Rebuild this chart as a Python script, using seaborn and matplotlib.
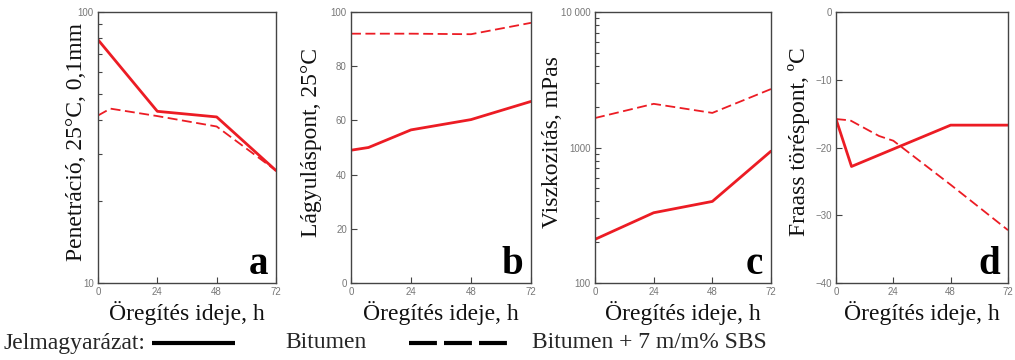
import matplotlib
matplotlib.use("Agg")
import matplotlib.pyplot as plt
import seaborn as sns
import pandas as pd
from matplotlib.lines import Line2D
from matplotlib.ticker import LogLocator, NullFormatter

# ---------------- data ----------------
x_ticks = [0, 24, 48, 72]
x_label = "Öregítés ideje, h"
series_names = ["Bitumen", "Bitumen + 7 m/m% SBS"]

# a: Penetration (log)
a_hours_bit = [0, 24, 48, 72]
a_pen_bit = [79, 43, 41, 26]
a_hours_sbs = [0, 5, 24, 48, 72]
a_pen_sbs = [41.5, 44, 41.3, 37.8, 26]

# b: Softening point
b_hours_bit = [0, 7, 24, 48, 72]
b_soft_bit = [49, 50, 56.5, 60.3, 67]
b_hours_sbs = [0, 24, 48, 72]
b_soft_sbs = [92, 92, 91.8, 96]

# c: Viscosity (log)
c_hours_bit = [0, 24, 48, 72]
c_visc_bit = [210, 330, 400, 940]
c_hours_sbs = [0, 24, 48, 72]
c_visc_sbs = [1650, 2100, 1800, 2700]

# d: Fraass breaking point
d_hours_bit = [0, 6.5, 48, 72]
d_fraass_bit = [-15.8, -22.8, -16.7, -16.7]
d_hours_sbs = [0, 6, 18, 24, 48, 72]
d_fraass_sbs = [-15.8, -16.0, -18.3, -19.0, -25.5, -32.2]

y_labels = ["Penetráció, 25°C, 0,1mm", "Lágyuláspont, 25°C",
            "Viszkozitás, mPas", "Fraass töréspont, ºC"]
panel_letters = ["a", "b", "c", "d"]
legend_title = "Jelmagyarázat:"

# ---------------- style ----------------
RED = "#ec1c24"
sns.set_style("white")
plt.rcParams["font.family"] = ["Liberation Sans", "DejaVu Sans"]
SERIF = ["Liberation Serif", "DejaVu Serif"]

fig = plt.figure(figsize=(10.15, 3.6), dpi=100)

W, H = 1015.0, 360.0
top_px, bot_px = 12, 283
boxes = [(98, 178), (351, 180), (595, 176), (836, 172)]
axes = []
for left, width in boxes:
    ax = fig.add_axes([left / W, 1 - bot_px / H, width / W, (bot_px - top_px) / H])
    axes.append(ax)


def frame(hb, vb, hs, vs):
    return pd.concat([
        pd.DataFrame({"hours": hb, "value": vb, "series": series_names[0]}),
        pd.DataFrame({"hours": hs, "value": vs, "series": series_names[1]}),
    ], ignore_index=True)


data = [
    frame(a_hours_bit, a_pen_bit, a_hours_sbs, a_pen_sbs),
    frame(b_hours_bit, b_soft_bit, b_hours_sbs, b_soft_sbs),
    frame(c_hours_bit, c_visc_bit, c_hours_sbs, c_visc_sbs),
    frame(d_hours_bit, d_fraass_bit, d_hours_sbs, d_fraass_sbs),
]

label_x = [-0.062, -0.16, -0.182, -0.15]

for i, (ax, df) in enumerate(zip(axes, data)):
    sns.lineplot(data=df, x="hours", y="value", style="series", size="series",
                 sizes={series_names[0]: 2.0, series_names[1]: 1.3},
                 dashes={series_names[0]: "", series_names[1]: (5.5, 2.5)},
                 color=RED, ax=ax, legend=False, estimator=None, sort=False)
    ax.set_xlim(0, 72)
    ax.set_xticks(x_ticks)
    ax.set_xlabel(x_label, family=SERIF, fontsize=17, color="#111")
    ax.xaxis.set_label_coords(0.5, -0.065)
    ax.set_ylabel(y_labels[i], family=SERIF, fontsize=17, color="#111")
    ax.yaxis.set_label_coords(label_x[i], 0.52)
    for s in ax.spines.values():
        s.set_color("#444")
        s.set_linewidth(1.0)
    ax.tick_params(which="both", direction="in", left=True, bottom=True,
                   right=False, top=False, color="#444", labelsize=7,
                   labelcolor="#777", pad=3)
    ax.tick_params(which="major", length=4, width=0.8)
    ax.tick_params(which="minor", length=3, width=0.8)
    ax.text(0.955, 0.035, panel_letters[i], transform=ax.transAxes,
            ha="right", va="baseline", family=SERIF, fontweight="bold",
            fontsize=28, color="black")

# a
axes[0].set_yscale("log")
axes[0].set_ylim(10, 100)
axes[0].set_yticks([10, 100], labels=["10", "100"])
axes[0].yaxis.set_minor_locator(LogLocator(base=10, subs=range(2, 10)))
axes[0].yaxis.set_minor_formatter(NullFormatter())
# b
axes[1].set_ylim(0, 100)
axes[1].set_yticks([0, 20, 40, 60, 80, 100])
# c
axes[2].set_yscale("log")
axes[2].set_ylim(100, 10000)
axes[2].set_yticks([100, 1000, 10000], labels=["100", "1000", "10 000"])
axes[2].yaxis.set_minor_locator(LogLocator(base=10, subs=range(2, 10)))
axes[2].yaxis.set_minor_formatter(NullFormatter())
# d
axes[3].set_ylim(-40, 0)
axes[3].set_yticks([-40, -30, -20, -10, 0])

# ---------------- legend row ----------------
ly = 1 - 343 / H
fig.text(4 / W, ly, legend_title, family=SERIF, fontsize=17, va="center", ha="left")
fig.add_artist(Line2D([152 / W, 235 / W], [ly, ly], transform=fig.transFigure,
                      color="black", lw=3.0, solid_capstyle="butt"))
fig.text(285 / W, ly, series_names[0], family=SERIF, fontsize=17, va="center", ha="left")
fig.add_artist(Line2D([409 / W, 507 / W], [ly, ly], transform=fig.transFigure,
                      color="black", lw=3.0, dashes=(6.7, 1.7), dash_capstyle="butt"))
fig.text(532 / W, ly, series_names[1], family=SERIF, fontsize=17, va="center", ha="left")

fig.savefig("out.png", dpi=100)
